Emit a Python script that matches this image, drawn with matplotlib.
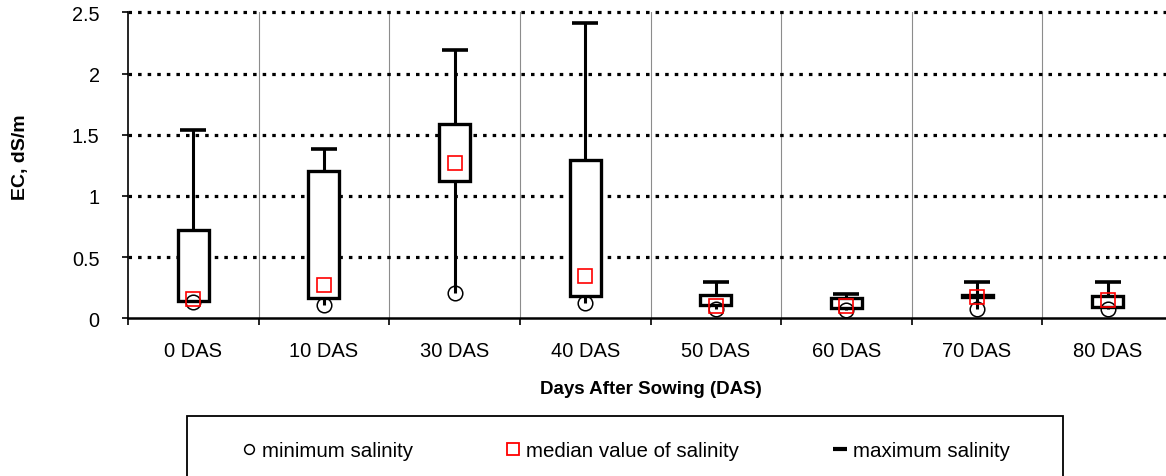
import matplotlib.pyplot as plt
import numpy as np
from matplotlib.lines import Line2D
from matplotlib.patches import Rectangle

plt.rcParams['font.family'] = ['Liberation Sans', 'DejaVu Sans']

# data (EC, dS/m)
categories = ['0 DAS', '10 DAS', '30 DAS', '40 DAS', '50 DAS', '60 DAS', '70 DAS', '80 DAS']
min_vals = [0.13, 0.11, 0.21, 0.125, 0.076, 0.07, 0.076, 0.074]
q1_vals = [0.144, 0.166, 1.12, 0.185, 0.109, 0.084, 0.177, 0.09]
q3_vals = [0.724, 1.20, 1.59, 1.29, 0.193, 0.166, 0.193, 0.18]
median_vals = [0.158, 0.27, 1.27, 0.343, 0.103, 0.10, 0.17, 0.152]
max_vals = [1.54, 1.38, 2.19, 2.41, 0.30, 0.20, 0.297, 0.297]
yticks = [0, 0.5, 1, 1.5, 2, 2.5]
ytick_labels = ['0', '0.5', '1', '1.5', '2', '2.5']

fig = plt.figure(figsize=(11.66, 4.77), dpi=100, facecolor='white')
ax = fig.add_axes([128/1166, 157.7/477, 1045/1166, 306/477])

x = np.arange(len(categories)) + 0.5
mins = np.array(min_vals)
q1 = np.array(q1_vals)
q3 = np.array(q3_vals)

ax.set_xlim(0, len(categories))
ax.set_ylim(0, 2.5)

# grid: thin grey verticals at category borders, heavy dotted horizontals
for b in range(1, len(categories) + 1):
    ax.axvline(b, color='#8c8c8c', lw=0.8, zorder=0)
for yv in yticks[1:]:
    ax.axhline(yv, color='black', lw=2.3, dashes=(1.1, 1.9), dash_capstyle='butt',
               clip_on=False, zorder=0.5)

# high-low line, box, max cap, min circle, median square
ax.vlines(x, mins, max_vals, color='black', lw=2.2, zorder=2)
ax.bar(x, q3 - q1, bottom=q1, width=0.237, facecolor='white', edgecolor='black',
       linewidth=2.4, zorder=3)
ax.plot(x, max_vals, ls='none', marker='_', ms=19, mew=2.6, color='black', zorder=4)
ax.plot(x, min_vals, ls='none', marker='o', ms=10.5, mfc='none', mec='black', mew=1.1,
        clip_on=False, zorder=4)
ax.plot(x, median_vals, ls='none', marker='s', ms=10.5, mfc='none', mec='red', mew=1.2,
        clip_on=False, zorder=5)

# axes styling
for s in ['top', 'right']:
    ax.spines[s].set_visible(False)
ax.spines['left'].set_linewidth(1.2)
ax.spines['bottom'].set_linewidth(1.8)
ax.set_yticks(yticks)
ax.set_yticklabels(ytick_labels)
ax.tick_params(axis='y', length=4, width=1.2, pad=16.5, labelsize=14.3)
ax.set_xticks(np.arange(0, len(categories) + 1))
ax.set_xticklabels([])
ax.tick_params(axis='x', which='major', length=5, width=1.2, direction='out')
ax.set_xticks(x, minor=True)
ax.set_xticklabels(categories, minor=True)
ax.tick_params(axis='x', which='minor', length=0, pad=16, labelsize=14.5)

ax.set_xlabel('Days After Sowing (DAS)', fontsize=13.5, fontweight='bold', va='center')
ax.xaxis.set_label_coords(0.5, (319.3 - 390) / 306)
ax.set_ylabel('EC, dS/m', fontsize=14, fontweight='bold', va='center')
ax.yaxis.set_label_coords((20 - 128) / 1045, (319.3 - 157) / 306)

# legend with its own frame (bottom runs off the picture)
handles = [
    Line2D([], [], ls='none', marker='o', ms=7, mfc='none', mec='black', mew=1.1),
    Line2D([], [], ls='none', marker='s', ms=8.5, mfc='none', mec='red', mew=1.3),
    Line2D([], [], ls='none', marker='_', ms=9.5, mew=3, color='black'),
]
labels = ['minimum salinity', 'median value of salinity', 'maximum salinity']
fig.legend(handles, labels, loc='center', bbox_to_anchor=(0.536, 25 / 477), ncol=3,
           frameon=False, fontsize=14.8, handlelength=0.8, handletextpad=0.23,
           columnspacing=4.5, borderaxespad=0)
fig.patches.append(Rectangle((187/1166, -10/477), 876/1166, 70/477, transform=fig.transFigure,
                             fill=False, edgecolor='black', lw=1.3))

fig.savefig('out.png', dpi=100, facecolor='white')
